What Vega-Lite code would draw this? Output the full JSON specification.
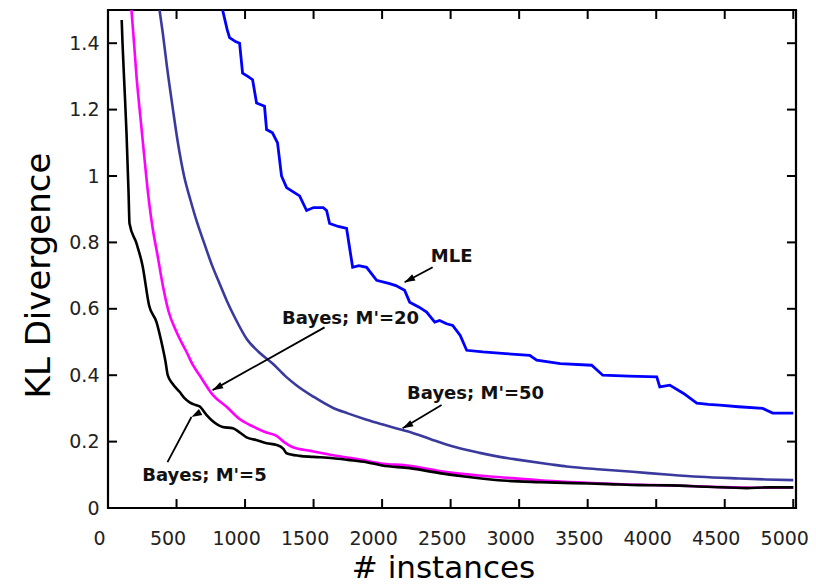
{
  "$schema": "https://vega.github.io/schema/vega-lite/v6.json",
  "width": 688,
  "height": 498,
  "autosize": "none",
  "padding": {"left": 108, "top": 10, "right": 20, "bottom": 77},
  "background": "white",
  "config": {
    "view": {"stroke": "black", "strokeWidth": 2.2},
    "axis": {
      "domain": false,
      "grid": false,
      "ticks": false,
      "labelColor": "#222222",
      "labelFont": "DejaVu Sans",
      "labelFontSize": 19,
      "titleFont": "DejaVu Sans",
      "titleFontWeight": "normal",
      "titleColor": "black"
    }
  },
  "datasets": {
    "ticks": [
      {"a": 500, "b": 500, "c": 0, "d": 0.027},
      {"a": 1000, "b": 1000, "c": 0, "d": 0.027},
      {"a": 1500, "b": 1500, "c": 0, "d": 0.027},
      {"a": 2000, "b": 2000, "c": 0, "d": 0.027},
      {"a": 2500, "b": 2500, "c": 0, "d": 0.027},
      {"a": 3000, "b": 3000, "c": 0, "d": 0.027},
      {"a": 3500, "b": 3500, "c": 0, "d": 0.027},
      {"a": 4000, "b": 4000, "c": 0, "d": 0.027},
      {"a": 4500, "b": 4500, "c": 0, "d": 0.027},
      {"a": 5000, "b": 5000, "c": 0, "d": 0.027},
      {"a": 500, "b": 500, "c": 1.5, "d": 1.473},
      {"a": 1000, "b": 1000, "c": 1.5, "d": 1.473},
      {"a": 1500, "b": 1500, "c": 1.5, "d": 1.473},
      {"a": 2000, "b": 2000, "c": 1.5, "d": 1.473},
      {"a": 2500, "b": 2500, "c": 1.5, "d": 1.473},
      {"a": 3000, "b": 3000, "c": 1.5, "d": 1.473},
      {"a": 3500, "b": 3500, "c": 1.5, "d": 1.473},
      {"a": 4000, "b": 4000, "c": 1.5, "d": 1.473},
      {"a": 4500, "b": 4500, "c": 1.5, "d": 1.473},
      {"a": 5000, "b": 5000, "c": 1.5, "d": 1.473},
      {"a": 0, "b": 66, "c": 0.2, "d": 0.2},
      {"a": 0, "b": 66, "c": 0.4, "d": 0.4},
      {"a": 0, "b": 66, "c": 0.6, "d": 0.6},
      {"a": 0, "b": 66, "c": 0.8, "d": 0.8},
      {"a": 0, "b": 66, "c": 1.0, "d": 1.0},
      {"a": 0, "b": 66, "c": 1.2, "d": 1.2},
      {"a": 0, "b": 66, "c": 1.4, "d": 1.4},
      {"a": 5020, "b": 4954, "c": 0.2, "d": 0.2},
      {"a": 5020, "b": 4954, "c": 0.4, "d": 0.4},
      {"a": 5020, "b": 4954, "c": 0.6, "d": 0.6},
      {"a": 5020, "b": 4954, "c": 0.8, "d": 0.8},
      {"a": 5020, "b": 4954, "c": 1.0, "d": 1.0},
      {"a": 5020, "b": 4954, "c": 1.2, "d": 1.2},
      {"a": 5020, "b": 4954, "c": 1.4, "d": 1.4}
    ],
    "curves": [
      {"series": "MLE", "n": 836, "kl": 1.5},
      {"series": "MLE", "n": 870, "kl": 1.44},
      {"series": "MLE", "n": 887, "kl": 1.417},
      {"series": "MLE", "n": 930, "kl": 1.405},
      {"series": "MLE", "n": 960, "kl": 1.4},
      {"series": "MLE", "n": 982, "kl": 1.31},
      {"series": "MLE", "n": 1020, "kl": 1.3},
      {"series": "MLE", "n": 1055, "kl": 1.29},
      {"series": "MLE", "n": 1084, "kl": 1.22},
      {"series": "MLE", "n": 1142, "kl": 1.21},
      {"series": "MLE", "n": 1157, "kl": 1.14},
      {"series": "MLE", "n": 1200, "kl": 1.13},
      {"series": "MLE", "n": 1237, "kl": 1.1},
      {"series": "MLE", "n": 1266, "kl": 1.0},
      {"series": "MLE", "n": 1303, "kl": 0.965},
      {"series": "MLE", "n": 1340, "kl": 0.955},
      {"series": "MLE", "n": 1398, "kl": 0.94},
      {"series": "MLE", "n": 1449, "kl": 0.896},
      {"series": "MLE", "n": 1500, "kl": 0.905},
      {"series": "MLE", "n": 1570, "kl": 0.905},
      {"series": "MLE", "n": 1595, "kl": 0.896},
      {"series": "MLE", "n": 1617, "kl": 0.857},
      {"series": "MLE", "n": 1680, "kl": 0.848},
      {"series": "MLE", "n": 1741, "kl": 0.842},
      {"series": "MLE", "n": 1777, "kl": 0.746},
      {"series": "MLE", "n": 1785, "kl": 0.725},
      {"series": "MLE", "n": 1830, "kl": 0.73},
      {"series": "MLE", "n": 1887, "kl": 0.725},
      {"series": "MLE", "n": 1960, "kl": 0.686},
      {"series": "MLE", "n": 2055, "kl": 0.676},
      {"series": "MLE", "n": 2100, "kl": 0.67},
      {"series": "MLE", "n": 2164, "kl": 0.656},
      {"series": "MLE", "n": 2201, "kl": 0.62},
      {"series": "MLE", "n": 2270, "kl": 0.605},
      {"series": "MLE", "n": 2325, "kl": 0.59},
      {"series": "MLE", "n": 2384, "kl": 0.56},
      {"series": "MLE", "n": 2420, "kl": 0.565},
      {"series": "MLE", "n": 2470, "kl": 0.555},
      {"series": "MLE", "n": 2515, "kl": 0.55},
      {"series": "MLE", "n": 2570, "kl": 0.52},
      {"series": "MLE", "n": 2617, "kl": 0.475},
      {"series": "MLE", "n": 2734, "kl": 0.47},
      {"series": "MLE", "n": 2900, "kl": 0.465},
      {"series": "MLE", "n": 3077, "kl": 0.46},
      {"series": "MLE", "n": 3128, "kl": 0.445},
      {"series": "MLE", "n": 3300, "kl": 0.435},
      {"series": "MLE", "n": 3529, "kl": 0.43},
      {"series": "MLE", "n": 3610, "kl": 0.4},
      {"series": "MLE", "n": 3800, "kl": 0.397},
      {"series": "MLE", "n": 4004, "kl": 0.395},
      {"series": "MLE", "n": 4026, "kl": 0.365},
      {"series": "MLE", "n": 4099, "kl": 0.37},
      {"series": "MLE", "n": 4200, "kl": 0.345},
      {"series": "MLE", "n": 4296, "kl": 0.316},
      {"series": "MLE", "n": 4380, "kl": 0.312},
      {"series": "MLE", "n": 4463, "kl": 0.31},
      {"series": "MLE", "n": 4600, "kl": 0.305},
      {"series": "MLE", "n": 4777, "kl": 0.3},
      {"series": "MLE", "n": 4850, "kl": 0.286},
      {"series": "MLE", "n": 5000, "kl": 0.286},

      {"series": "Bayes M'=50", "n": 376, "kl": 1.5},
      {"series": "Bayes M'=50", "n": 400, "kl": 1.43},
      {"series": "Bayes M'=50", "n": 430, "kl": 1.33},
      {"series": "Bayes M'=50", "n": 474, "kl": 1.2},
      {"series": "Bayes M'=50", "n": 510, "kl": 1.1},
      {"series": "Bayes M'=50", "n": 555, "kl": 1.0},
      {"series": "Bayes M'=50", "n": 600, "kl": 0.93},
      {"series": "Bayes M'=50", "n": 650, "kl": 0.86},
      {"series": "Bayes M'=50", "n": 700, "kl": 0.8},
      {"series": "Bayes M'=50", "n": 760, "kl": 0.73},
      {"series": "Bayes M'=50", "n": 810, "kl": 0.68},
      {"series": "Bayes M'=50", "n": 865, "kl": 0.626},
      {"series": "Bayes M'=50", "n": 930, "kl": 0.57},
      {"series": "Bayes M'=50", "n": 1011, "kl": 0.51},
      {"series": "Bayes M'=50", "n": 1100, "kl": 0.47},
      {"series": "Bayes M'=50", "n": 1201, "kl": 0.435},
      {"series": "Bayes M'=50", "n": 1300, "kl": 0.395},
      {"series": "Bayes M'=50", "n": 1374, "kl": 0.37},
      {"series": "Bayes M'=50", "n": 1500, "kl": 0.335},
      {"series": "Bayes M'=50", "n": 1640, "kl": 0.302},
      {"series": "Bayes M'=50", "n": 1750, "kl": 0.285},
      {"series": "Bayes M'=50", "n": 1887, "kl": 0.266},
      {"series": "Bayes M'=50", "n": 2000, "kl": 0.252},
      {"series": "Bayes M'=50", "n": 2128, "kl": 0.237},
      {"series": "Bayes M'=50", "n": 2223, "kl": 0.226},
      {"series": "Bayes M'=50", "n": 2350, "kl": 0.208},
      {"series": "Bayes M'=50", "n": 2493, "kl": 0.188},
      {"series": "Bayes M'=50", "n": 2712, "kl": 0.166},
      {"series": "Bayes M'=50", "n": 2858, "kl": 0.154},
      {"series": "Bayes M'=50", "n": 3000, "kl": 0.145},
      {"series": "Bayes M'=50", "n": 3222, "kl": 0.132},
      {"series": "Bayes M'=50", "n": 3347, "kl": 0.125},
      {"series": "Bayes M'=50", "n": 3600, "kl": 0.116},
      {"series": "Bayes M'=50", "n": 3828, "kl": 0.109},
      {"series": "Bayes M'=50", "n": 4100, "kl": 0.1},
      {"series": "Bayes M'=50", "n": 4318, "kl": 0.094},
      {"series": "Bayes M'=50", "n": 4600, "kl": 0.089},
      {"series": "Bayes M'=50", "n": 4800, "kl": 0.086},
      {"series": "Bayes M'=50", "n": 5000, "kl": 0.084},

      {"series": "Bayes M'=20", "n": 171, "kl": 1.5},
      {"series": "Bayes M'=20", "n": 190, "kl": 1.4},
      {"series": "Bayes M'=20", "n": 208, "kl": 1.3},
      {"series": "Bayes M'=20", "n": 226, "kl": 1.22},
      {"series": "Bayes M'=20", "n": 244, "kl": 1.146},
      {"series": "Bayes M'=20", "n": 262, "kl": 1.07},
      {"series": "Bayes M'=20", "n": 280, "kl": 0.995},
      {"series": "Bayes M'=20", "n": 303, "kl": 0.91},
      {"series": "Bayes M'=20", "n": 325, "kl": 0.845},
      {"series": "Bayes M'=20", "n": 362, "kl": 0.76},
      {"series": "Bayes M'=20", "n": 400, "kl": 0.67},
      {"series": "Bayes M'=20", "n": 440, "kl": 0.595},
      {"series": "Bayes M'=20", "n": 500, "kl": 0.53},
      {"series": "Bayes M'=20", "n": 573, "kl": 0.47},
      {"series": "Bayes M'=20", "n": 620, "kl": 0.43},
      {"series": "Bayes M'=20", "n": 668, "kl": 0.4},
      {"series": "Bayes M'=20", "n": 766, "kl": 0.34},
      {"series": "Bayes M'=20", "n": 865, "kl": 0.305},
      {"series": "Bayes M'=20", "n": 960, "kl": 0.268},
      {"series": "Bayes M'=20", "n": 1060, "kl": 0.245},
      {"series": "Bayes M'=20", "n": 1150, "kl": 0.228},
      {"series": "Bayes M'=20", "n": 1230, "kl": 0.217},
      {"series": "Bayes M'=20", "n": 1290, "kl": 0.197},
      {"series": "Bayes M'=20", "n": 1349, "kl": 0.183},
      {"series": "Bayes M'=20", "n": 1480, "kl": 0.172},
      {"series": "Bayes M'=20", "n": 1566, "kl": 0.165},
      {"series": "Bayes M'=20", "n": 1700, "kl": 0.155},
      {"series": "Bayes M'=20", "n": 1850, "kl": 0.145},
      {"series": "Bayes M'=20", "n": 1982, "kl": 0.135},
      {"series": "Bayes M'=20", "n": 2200, "kl": 0.127},
      {"series": "Bayes M'=20", "n": 2471, "kl": 0.108},
      {"series": "Bayes M'=20", "n": 2700, "kl": 0.098},
      {"series": "Bayes M'=20", "n": 2953, "kl": 0.09},
      {"series": "Bayes M'=20", "n": 3200, "kl": 0.082},
      {"series": "Bayes M'=20", "n": 3500, "kl": 0.076},
      {"series": "Bayes M'=20", "n": 3800, "kl": 0.071},
      {"series": "Bayes M'=20", "n": 4100, "kl": 0.068},
      {"series": "Bayes M'=20", "n": 4400, "kl": 0.064},
      {"series": "Bayes M'=20", "n": 4700, "kl": 0.061},
      {"series": "Bayes M'=20", "n": 5000, "kl": 0.062},

      {"series": "Bayes M'=5", "n": 100, "kl": 1.47},
      {"series": "Bayes M'=5", "n": 106, "kl": 1.4},
      {"series": "Bayes M'=5", "n": 120, "kl": 1.27},
      {"series": "Bayes M'=5", "n": 135, "kl": 1.13},
      {"series": "Bayes M'=5", "n": 150, "kl": 0.95},
      {"series": "Bayes M'=5", "n": 157, "kl": 0.857},
      {"series": "Bayes M'=5", "n": 208, "kl": 0.797},
      {"series": "Bayes M'=5", "n": 252, "kl": 0.73},
      {"series": "Bayes M'=5", "n": 300, "kl": 0.61},
      {"series": "Bayes M'=5", "n": 354, "kl": 0.56},
      {"series": "Bayes M'=5", "n": 390, "kl": 0.5},
      {"series": "Bayes M'=5", "n": 420, "kl": 0.44},
      {"series": "Bayes M'=5", "n": 436, "kl": 0.4},
      {"series": "Bayes M'=5", "n": 470, "kl": 0.375},
      {"series": "Bayes M'=5", "n": 522, "kl": 0.35},
      {"series": "Bayes M'=5", "n": 560, "kl": 0.33},
      {"series": "Bayes M'=5", "n": 596, "kl": 0.318},
      {"series": "Bayes M'=5", "n": 640, "kl": 0.31},
      {"series": "Bayes M'=5", "n": 668, "kl": 0.306},
      {"series": "Bayes M'=5", "n": 720, "kl": 0.28},
      {"series": "Bayes M'=5", "n": 763, "kl": 0.262},
      {"series": "Bayes M'=5", "n": 837, "kl": 0.244},
      {"series": "Bayes M'=5", "n": 910, "kl": 0.24},
      {"series": "Bayes M'=5", "n": 960, "kl": 0.228},
      {"series": "Bayes M'=5", "n": 1011, "kl": 0.213},
      {"series": "Bayes M'=5", "n": 1080, "kl": 0.205},
      {"series": "Bayes M'=5", "n": 1157, "kl": 0.195},
      {"series": "Bayes M'=5", "n": 1230, "kl": 0.19},
      {"series": "Bayes M'=5", "n": 1280, "kl": 0.178},
      {"series": "Bayes M'=5", "n": 1303, "kl": 0.165},
      {"series": "Bayes M'=5", "n": 1398, "kl": 0.157},
      {"series": "Bayes M'=5", "n": 1500, "kl": 0.154},
      {"series": "Bayes M'=5", "n": 1642, "kl": 0.15},
      {"series": "Bayes M'=5", "n": 1750, "kl": 0.145},
      {"series": "Bayes M'=5", "n": 1887, "kl": 0.138},
      {"series": "Bayes M'=5", "n": 2000, "kl": 0.128},
      {"series": "Bayes M'=5", "n": 2201, "kl": 0.12},
      {"series": "Bayes M'=5", "n": 2420, "kl": 0.105},
      {"series": "Bayes M'=5", "n": 2600, "kl": 0.095},
      {"series": "Bayes M'=5", "n": 2909, "kl": 0.082},
      {"series": "Bayes M'=5", "n": 3150, "kl": 0.078},
      {"series": "Bayes M'=5", "n": 3391, "kl": 0.075},
      {"series": "Bayes M'=5", "n": 3650, "kl": 0.072},
      {"series": "Bayes M'=5", "n": 3880, "kl": 0.069},
      {"series": "Bayes M'=5", "n": 4100, "kl": 0.068},
      {"series": "Bayes M'=5", "n": 4369, "kl": 0.064},
      {"series": "Bayes M'=5", "n": 4661, "kl": 0.06},
      {"series": "Bayes M'=5", "n": 4800, "kl": 0.062},
      {"series": "Bayes M'=5", "n": 5000, "kl": 0.062}
    ],
    "notes": [
      {"label": "MLE", "tx": 2507, "ty": 0.755, "x1": 2369, "y1": 0.725, "x2": 2164, "y2": 0.68},
      {"label": "Bayes; M'=20", "tx": 1770, "ty": 0.568, "x1": 1580, "y1": 0.544, "x2": 763, "y2": 0.355},
      {"label": "Bayes; M'=50", "tx": 2682, "ty": 0.343, "x1": 2434, "y1": 0.31, "x2": 2150, "y2": 0.24},
      {"label": "Bayes; M'=5", "tx": 704, "ty": 0.096, "x1": 434, "y1": 0.138, "x2": 609, "y2": 0.274}
    ]
  },
  "layer": [
    {
      "data": {"name": "curves"},
      "transform": [{"filter": "datum.series === 'MLE'"}],
      "mark": {"type": "line", "strokeWidth": 2.8, "clip": true},
      "encoding": {
        "x": {
          "field": "n", "type": "quantitative",
          "scale": {"domain": [0, 5020], "nice": false, "zero": false},
          "axis": {
            "orient": "bottom",
            "values": [0, 500, 1000, 1500, 2000, 2500, 3000, 3500, 4000, 4500, 5000],
            "format": "d",
            "labelPadding": 21,
            "labelOffset": -9,
            "labelFlush": false,
            "title": "# instances",
            "titleFontSize": 31,
            "titlePadding": 5,
            "titleX": 335
          }
        },
        "y": {
          "field": "kl", "type": "quantitative",
          "scale": {"domain": [0, 1.5], "nice": false},
          "axis": {
            "orient": "left",
            "values": [0, 0.2, 0.4, 0.6, 0.8, 1, 1.2, 1.4],
            "format": "~g",
            "labelPadding": 9,
            "labelFlush": false,
            "title": "KL Divergence",
            "titleFontSize": 34,
            "titlePadding": 12,
            "titleY": 265
          }
        },
        "color": {
          "field": "series", "type": "nominal",
          "scale": {
            "domain": ["MLE", "Bayes M'=50", "Bayes M'=20", "Bayes M'=5"],
            "range": ["#0000ff", "#3a3a9e", "#ff00ff", "#000000"]
          },
          "legend": null
        }
      }
    },
    {
      "data": {"name": "curves"},
      "transform": [{"filter": "datum.series !== 'MLE'"}],
      "mark": {"type": "line", "strokeWidth": 2.6, "clip": true, "interpolate": "monotone"},
      "encoding": {
        "x": {"field": "n", "type": "quantitative"},
        "y": {"field": "kl", "type": "quantitative"},
        "color": {"field": "series", "type": "nominal", "legend": null}
      }
    },
    {
      "data": {"name": "ticks"},
      "mark": {"type": "rule", "color": "black", "strokeWidth": 2},
      "encoding": {
        "x": {"field": "a", "type": "quantitative"},
        "x2": {"field": "b"},
        "y": {"field": "c", "type": "quantitative"},
        "y2": {"field": "d"}
      }
    },
    {
      "data": {"name": "notes"},
      "mark": {"type": "rule", "color": "black", "strokeWidth": 1.8},
      "encoding": {
        "x": {"field": "x1", "type": "quantitative"},
        "y": {"field": "y1", "type": "quantitative"},
        "x2": {"field": "x2"},
        "y2": {"field": "y2"}
      }
    },
    {
      "data": {"name": "notes"},
      "mark": {"type": "point", "shape": "M0,0L0.7,2.1L-0.7,2.1Z", "size": 100, "filled": true, "color": "black", "opacity": 1},
      "encoding": {
        "x": {"field": "x2", "type": "quantitative"},
        "y": {"field": "y2", "type": "quantitative"},
        "angle": {
          "field": "label", "type": "nominal",
          "scale": {"domain": ["MLE", "Bayes; M'=20", "Bayes; M'=50", "Bayes; M'=5"], "range": [242, 241, 239.5, 28]},
          "legend": null
        }
      }
    },
    {
      "data": {"name": "notes"},
      "mark": {"type": "text", "font": "DejaVu Sans", "fontWeight": "bold", "fontSize": 18, "color": "#111111", "align": "center", "baseline": "middle"},
      "encoding": {
        "x": {"field": "tx", "type": "quantitative"},
        "y": {"field": "ty", "type": "quantitative"},
        "text": {"field": "label"}
      }
    }
  ]
}
